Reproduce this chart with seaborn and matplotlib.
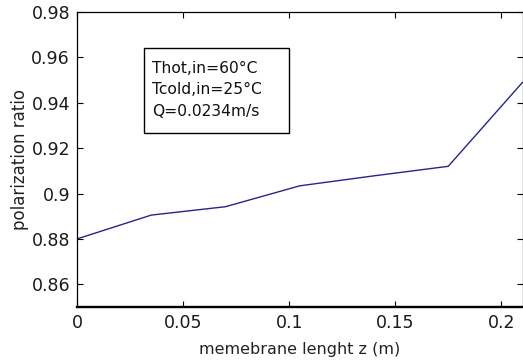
import matplotlib
matplotlib.use("Agg")
import matplotlib.pyplot as plt
from matplotlib.patches import Rectangle
import seaborn as sns
import pandas as pd

# Data
z_values = [0.0, 0.035, 0.07, 0.105, 0.14, 0.175, 0.21]
ratio_values = [0.880, 0.8905, 0.8942, 0.9034, 0.9078, 0.9120, 0.9490]
x_ticks = [0, 0.05, 0.1, 0.15, 0.2]
x_tick_labels = ["0", "0.05", "0.1", "0.15", "0.2"]
y_ticks = [0.86, 0.88, 0.9, 0.92, 0.94, 0.96, 0.98]
y_tick_labels = ["0.86", "0.88", "0.9", "0.92", "0.94", "0.96", "0.98"]
annotation_lines = ["Thot,in=60°C", "Tcold,in=25°C", "Q=0.0234m/s"]

sns.set_theme(style="white")
plt.rcParams["font.family"] = ["DejaVu Sans"]

df = pd.DataFrame({"z": z_values, "ratio": ratio_values})

W, H = 523, 363
L, R, T, B = 77, 522.5, 12, 307
fig = plt.figure(figsize=(W / 100, H / 100), dpi=100)
ax = fig.add_axes([L / W, 1 - B / H, (R - L) / W, (B - T) / H])

sns.lineplot(data=df, x="z", y="ratio", ax=ax, color="#25258f", linewidth=1.0)

ax.set_xlim(0, 0.21)
ax.set_ylim(0.85, 0.98)
ax.set_xticks(x_ticks)
ax.set_xticklabels(x_tick_labels)
ax.set_yticks(y_ticks)
ax.set_yticklabels(y_tick_labels)
ax.tick_params(direction="in", length=4.5, width=0.8, colors="black", labelsize=12.5,
               top=True, right=True, bottom=True, left=True, pad=5)
for lbl in ax.get_xticklabels() + ax.get_yticklabels():
    lbl.set_color("#1a1a1a")
for s in ax.spines.values():
    s.set_color("black")
    s.set_linewidth(0.9)
ax.spines["bottom"].set_linewidth(1.7)

ax.set_xlabel("memebrane lenght z (m)", fontsize=11.5, color="#222222", labelpad=7)
ax.set_ylabel("polarization ratio", fontsize=12, color="#222222", labelpad=1.5)


def ax_x(px):
    return (px - L) / (R - L)


def ax_y(py):
    return (B - py) / (B - T)


ax.add_patch(Rectangle((ax_x(144), ax_y(133)), ax_x(289) - ax_x(144), ax_y(48) - ax_y(133),
                       transform=ax.transAxes, facecolor="white", edgecolor="black",
                       linewidth=1.0, zorder=3))
ax.text(ax_x(152.5), ax_y(90), "\n".join(annotation_lines), transform=ax.transAxes,
        fontsize=11.2, va="center", ha="left", linespacing=1.55, color="#111111", zorder=4)

fig.savefig("out.png", dpi=100)
